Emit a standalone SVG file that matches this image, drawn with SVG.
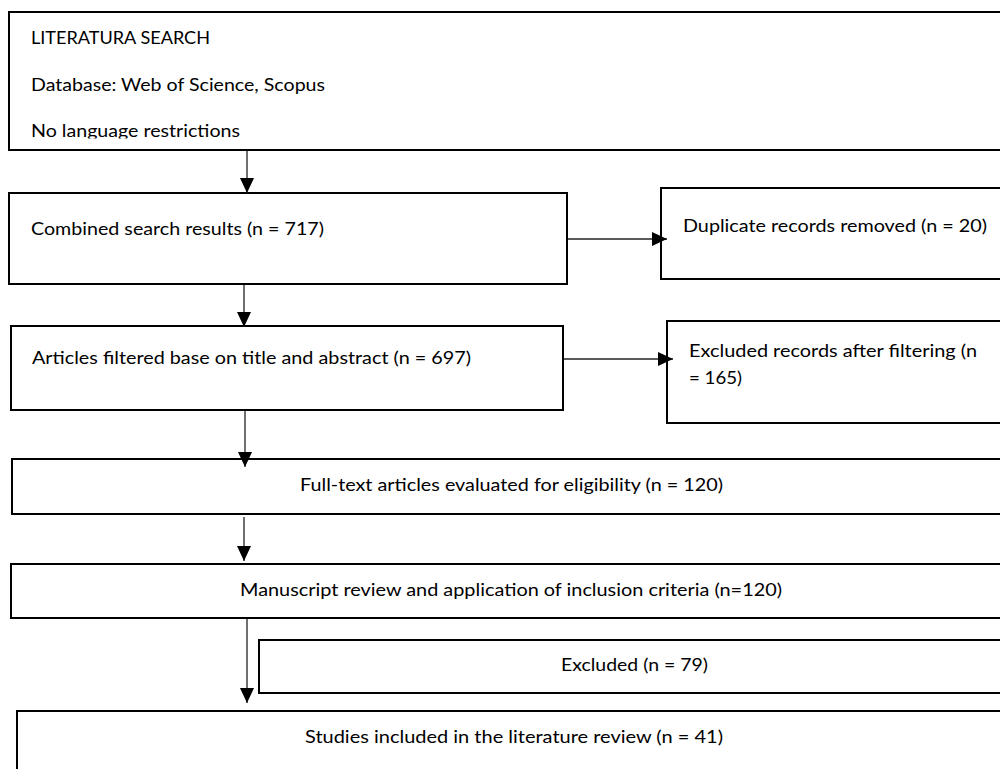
<svg xmlns="http://www.w3.org/2000/svg" width="1000" height="769" viewBox="0 0 1000 769">
<style>
.box{fill:#fff;stroke:#000;stroke-width:2}
.t{font-family:Lato,"Open Sans","Liberation Sans",sans-serif;font-size:17.5px;fill:#000}
.c{stroke:#222;stroke-width:1.3;fill:none}
</style>
<defs>
<marker id="ah" markerUnits="userSpaceOnUse" markerWidth="15" markerHeight="14" refX="15" refY="7" orient="auto">
<path d="M0,0 L15,7 L0,14 z" fill="#000"/>
</marker>
<clipPath id="clip1"><rect x="0" y="0" width="1000" height="138.5"/></clipPath>
</defs>
<rect width="1000" height="769" fill="#fff"/>
<g id="n1">
<rect class="box" x="9" y="12" width="1001" height="138"/>
<g clip-path="url(#clip1)">
<text class="t" x="31" y="44" textLength="179" lengthAdjust="spacingAndGlyphs">LITERATURA SEARCH</text>
<text class="t" x="31" y="91" textLength="294" lengthAdjust="spacingAndGlyphs">Database: Web of Science, Scopus</text>
<text class="t" x="31" y="137" textLength="209" lengthAdjust="spacingAndGlyphs">No language restrictions</text>
</g>
</g>
<g id="n2">
<rect class="box" x="9" y="193" width="558" height="91"/>
<text class="t" x="31" y="235" textLength="293" lengthAdjust="spacingAndGlyphs">Combined search results (n = 717)</text>
</g>
<g id="n3">
<rect class="box" x="661" y="188" width="350" height="91"/>
<text class="t" x="683" y="232" textLength="304" lengthAdjust="spacingAndGlyphs">Duplicate records removed (n = 20)</text>
</g>
<g id="n4">
<rect class="box" x="11" y="326" width="552" height="84"/>
<text class="t" x="32" y="364" textLength="439" lengthAdjust="spacingAndGlyphs">Articles filtered base on title and abstract (n = 697)</text>
</g>
<g id="n5">
<rect class="box" x="667" y="321" width="345" height="102"/>
<text class="t" x="689" y="357" textLength="288" lengthAdjust="spacingAndGlyphs">Excluded records after filtering (n</text>
<text class="t" x="689" y="384" textLength="53" lengthAdjust="spacingAndGlyphs">= 165)</text>
</g>
<g id="n6">
<rect class="box" x="12" y="459" width="1000" height="55"/>
<text class="t" x="300" y="491" textLength="423" lengthAdjust="spacingAndGlyphs">Full-text articles evaluated for eligibility (n = 120)</text>
</g>
<g id="n7">
<rect class="box" x="11" y="564" width="1001" height="54"/>
<text class="t" x="240" y="596" textLength="542" lengthAdjust="spacingAndGlyphs">Manuscript review and application of inclusion criteria (n=120)</text>
</g>
<g id="n8">
<rect class="box" x="259" y="640" width="753" height="53"/>
<text class="t" x="561" y="671" textLength="147" lengthAdjust="spacingAndGlyphs">Excluded (n = 79)</text>
</g>
<g id="n9">
<rect class="box" x="17" y="711" width="995" height="70"/>
<text class="t" x="305" y="743" textLength="418" lengthAdjust="spacingAndGlyphs">Studies included in the literature review (n = 41)</text>
</g>
<g id="connectors">
<line class="c" x1="247" y1="151" x2="247" y2="193" marker-end="url(#ah)"/>
<line class="c" x1="568" y1="239" x2="667" y2="239" marker-end="url(#ah)"/>
<line class="c" x1="244" y1="285" x2="244" y2="327" marker-end="url(#ah)"/>
<line class="c" x1="564" y1="359" x2="673" y2="359" marker-end="url(#ah)"/>
<line class="c" x1="245" y1="411" x2="245" y2="467" marker-end="url(#ah)"/>
<line class="c" x1="244" y1="517" x2="244" y2="561" marker-end="url(#ah)"/>
<line class="c" x1="247" y1="619" x2="247" y2="703" marker-end="url(#ah)"/>
</g>
</svg>
